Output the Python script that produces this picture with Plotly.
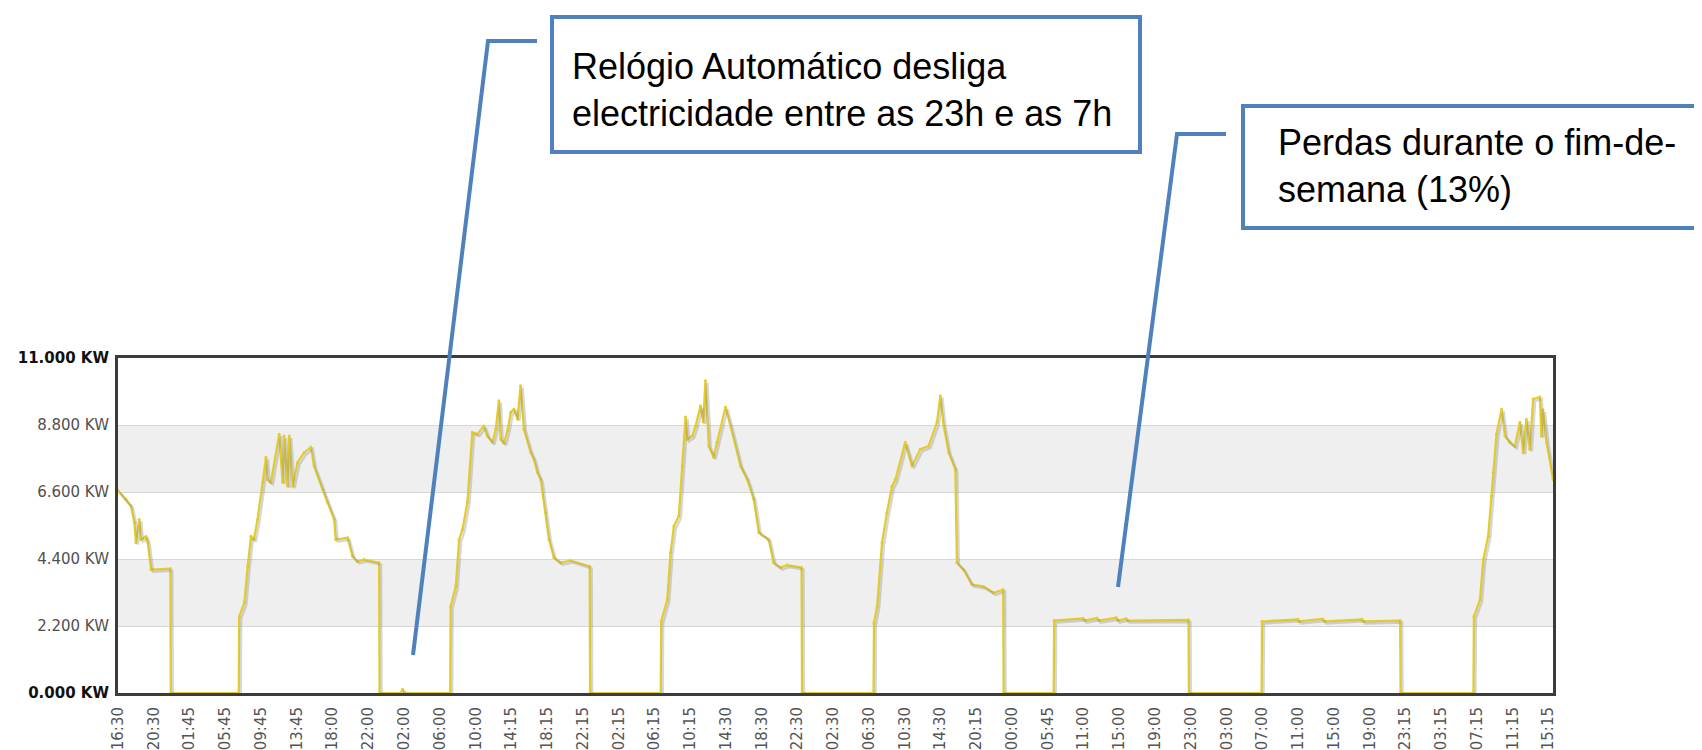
import plotly.graph_objects as go

# ---------------- data ----------------
# x = sample index (16 samples between consecutive time labels), y = power in kW
sample = [0, 3.5, 5.8, 7.3, 8.0, 9.5, 10.3, 12.5, 13.3, 14.8, 23.4, 23.6,
          54.0, 54.2, 56.5, 58.0, 59.5, 60.8, 62.4, 64.7, 66.2, 66.9, 68.4, 72.1, 73.6, 74.3, 75.8,
          76.6, 78.1, 80.3, 83.3, 86.3, 87.7, 91.5, 93.7, 96.7, 97.4, 102.7, 104.9, 107.1, 110.1,
          116.8, 117.0, 126.5, 127.3, 128.1,
          148.6, 148.8, 151.1, 152.6, 154.1, 156.3, 158.5, 160.8, 163.7, 165.2, 167.5, 169.0, 170.4,
          171.2, 172.7, 174.2, 175.7, 177.1, 178.7, 180.1, 181.6, 184.6, 186.1, 187.6, 189.1, 191.3,
          192.8, 195.0, 198.0, 202.5, 211.0, 211.2,
          242.8, 243.0, 245.7, 247.2, 248.7, 250.9, 252.4, 253.9, 254.7, 256.9, 258.4, 260.6, 261.8,
          262.8, 264.3, 266.5, 268.0, 271.8, 274.0, 278.5, 281.5, 284.4, 286.7, 291.1, 293.3, 296.4,
          299.4, 305.8, 306.0,
          338.0, 338.2, 339.6, 341.8, 344.0, 346.3, 347.8, 352.2, 355.2, 358.9, 362.6, 366.4, 367.9,
          369.4, 371.6, 374.6, 375.3, 378.3, 382.0, 387.2, 391.7, 396.0, 396.2,
          418.6, 418.8, 431.8, 432.5, 438.0, 438.7, 446.6, 447.3, 451.0, 451.7, 478.9, 479.1,
          511.6, 511.8, 527.8, 528.5, 539.0, 539.7, 556.5, 557.2, 573.6, 573.8,
          606.4, 606.6, 609.3, 610.8, 613.0, 614.5, 615.2, 616.7, 619.0, 620.5, 622.7, 624.9, 627.2,
          628.6, 630.1, 631.6, 633.1, 636.1, 636.8, 637.5, 639.1, 642.0]
power_kw = [6.65, 6.36, 6.14, 5.6, 4.94, 5.7, 5.04, 5.14, 4.94, 4.05, 4.08, 0,
            0, 2.51, 2.96, 4.16, 5.15, 5.04, 5.7, 6.92, 7.74, 7.0, 6.92, 8.5, 6.92, 8.44, 6.8,
            8.44, 6.79, 7.57, 7.9, 8.07, 7.45, 6.69, 6.26, 5.7, 5.04, 5.1, 4.49, 4.32, 4.38,
            4.28, 0, 0, 0.12, 0,
            0, 2.84, 3.5, 5.04, 5.37, 6.26, 8.56, 8.5, 8.77, 8.44, 8.23, 8.66, 9.6,
            8.33, 8.2, 8.6, 9.22, 9.32, 9.0, 10.09, 8.66, 7.9, 7.67, 7.24, 7.01, 5.93,
            5.04, 4.45, 4.28, 4.35, 4.16, 0,
            0, 2.35, 3.06, 4.61, 5.48, 5.81, 7.45, 9.06, 8.33, 8.44, 8.77, 9.43, 8.9,
            10.25, 8.11, 7.74, 8.23, 9.39, 8.77, 7.45, 7.01, 6.36, 5.27, 5.04, 4.28, 4.12,
            4.2, 4.12, 0,
            0, 2.31, 2.84, 4.94, 5.93, 6.79, 7.01, 8.23, 7.45, 8.0, 8.11, 8.89, 9.76,
            8.77, 7.9, 7.34, 4.28, 4.05, 3.56, 3.5, 3.29, 3.39, 0,
            0, 2.38, 2.45, 2.38, 2.46, 2.38, 2.47, 2.38, 2.44, 2.38, 2.40, 0,
            0, 2.35, 2.42, 2.35, 2.43, 2.35, 2.42, 2.35, 2.38, 0,
            0, 2.51, 3.06, 4.38, 5.15, 6.47, 7.24, 8.5, 9.32, 8.44, 8.23, 8.1, 8.89,
            7.9, 8.99, 8.0, 9.65, 9.72, 8.44, 9.3, 8.23, 7.01]

time_labels = ["16:30", "20:30", "01:45", "05:45", "09:45", "13:45", "18:00", "22:00",
               "02:00", "06:00", "10:00", "14:15", "18:15", "22:15", "02:15", "06:15",
               "10:15", "14:30", "18:30", "22:30", "02:30", "06:30", "10:30", "14:30",
               "20:15", "00:00", "05:45", "11:00", "15:00", "19:00", "23:00", "03:00",
               "07:00", "11:00", "15:00", "19:00", "23:15", "03:15", "07:15", "11:15", "15:15"]
samples_per_label = 16

y_ticks = [0, 2.2, 4.4, 6.6, 8.8, 11.0]
y_labels = ["0.000 KW", "2.200 KW", "4.400 KW", "6.600 KW", "8.800 KW", "11.000 KW"]

note_clock = "Relógio Automático desliga<br>electricidade entre as 23h e as 7h"
note_weekend = "Perdas durante o fim-de-<br>semana (13%)"

# ---------------- layout geometry ----------------
# the page body has an 8px margin, so the figure starts at (8, 8) of the window
PAGE_W, PAGE_H, OFF = 1702, 750, 8
W, H = PAGE_W, PAGE_H - OFF
# plot area in window pixels
P_L, P_R, P_T, P_B = 118, 1553, 358, 693
L, T = P_L - OFF, P_T - OFF
R, B = W - (P_R - OFF), H - (P_B - OFF)
PW, PH = P_R - P_L, P_B - P_T
X_MAX = 642
Y_MAX = 11.0


def px(xpix):
    return (xpix - P_L) / PW


def py(ypix):
    return (P_B - ypix) / PH


tickvals_x = [i * samples_per_label for i in range(len(time_labels))]

ytext = []
for v, lab in zip(y_ticks, y_labels):
    if v in (0, 11.0):
        ytext.append("<b><span style='color:#111111'>" + lab + "</span></b>")
    else:
        ytext.append(lab)

fig = go.Figure()

# soft shadow of the line (same data on overlaid axes shifted by 2px)
dx = 2.0 / PW * X_MAX
dy = 2.0 / PH * Y_MAX
fig.add_trace(go.Scatter(x=sample, y=power_kw, mode="lines", xaxis="x2", yaxis="y2",
                         line=dict(color="rgba(140,140,140,0.35)", width=2.5),
                         hoverinfo="skip", showlegend=False))
fig.add_trace(go.Scatter(x=sample, y=power_kw, mode="lines+markers",
                         line=dict(color="#e4cd28", width=2.2),
                         marker=dict(color="#e4cd28", size=3),
                         showlegend=False))

shapes = []
# alternating background bands
for i in range(len(y_ticks) - 1):
    if i % 2 == 1:
        shapes.append(dict(type="rect", xref="paper", yref="y", x0=0, x1=1,
                           y0=y_ticks[i], y1=y_ticks[i + 1], fillcolor="#efefef",
                           line=dict(width=0), layer="below"))

blue = "#4f81bd"
# annotation boxes
shapes.append(dict(type="rect", xref="paper", yref="paper", x0=px(552), x1=px(1140),
                   y0=py(152), y1=py(17), line=dict(color=blue, width=4),
                   fillcolor="rgba(0,0,0,0)", layer="above"))
shapes.append(dict(type="rect", xref="paper", yref="paper", x0=px(1243), x1=px(1730),
                   y0=py(228), y1=py(106), line=dict(color=blue, width=4),
                   fillcolor="rgba(0,0,0,0)", layer="above"))
# connectors
shapes.append(dict(type="path", xref="paper", yref="paper",
                   path=f"M {px(537)},{py(41)} L {px(488)},{py(41)} L {px(413)},{py(655)}",
                   line=dict(color=blue, width=4), layer="above"))
shapes.append(dict(type="path", xref="paper", yref="paper",
                   path=f"M {px(1226)},{py(134)} L {px(1177)},{py(134)} L {px(1118)},{py(587)}",
                   line=dict(color=blue, width=4), layer="above"))

annots = [
    dict(xref="paper", yref="paper", x=px(570), y=py(44), xanchor="left", yanchor="top",
         text=note_clock, showarrow=False, align="left",
         font=dict(family="Liberation Sans, Arial", size=36, color="#000000")),
    dict(xref="paper", yref="paper", x=px(1276), y=py(120), xanchor="left", yanchor="top",
         text=note_weekend, showarrow=False, align="left",
         font=dict(family="Liberation Sans, Arial", size=36, color="#000000")),
]

axis_font = dict(family="DejaVu Sans, Verdana", size=15, color="#555555")

fig.update_layout(
    template="none",
    width=W, height=H,
    margin=dict(l=L, r=R, t=T, b=B, pad=0),
    paper_bgcolor="white", plot_bgcolor="white",
    showlegend=False,
    shapes=shapes,
    annotations=annots,
    xaxis=dict(range=[0, X_MAX], tickmode="array", tickvals=tickvals_x, ticktext=time_labels,
               tickangle=-90, tickfont=axis_font, showgrid=False, zeroline=False,
               showline=True, mirror=True, linecolor="#3c3c3c", linewidth=3,
               ticks="", ticklabelstandoff=5, automargin=False),
    yaxis=dict(range=[0, Y_MAX], tickmode="array", tickvals=y_ticks, ticktext=ytext,
               tickfont=dict(family="DejaVu Sans, Verdana", size=15, color="#505050"),
               showgrid=True, gridcolor="#d6d6d6", gridwidth=1, zeroline=False,
               showline=True, mirror=True, linecolor="#3c3c3c", linewidth=3,
               ticks="", ticklabelstandoff=3, automargin=False),
    xaxis2=dict(range=[-dx, X_MAX - dx], overlaying="x", visible=False),
    yaxis2=dict(range=[dy, Y_MAX + dy], overlaying="y", visible=False),
)

fig.write_html("out.html")
